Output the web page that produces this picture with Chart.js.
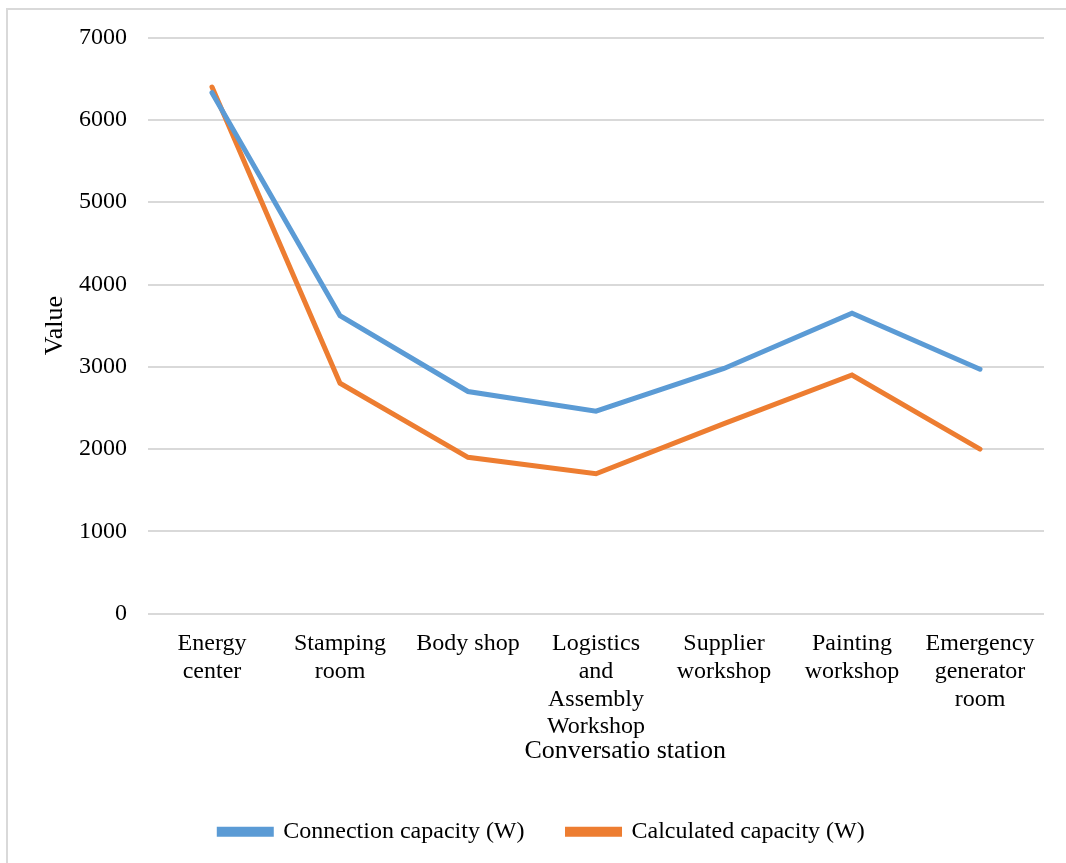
<!DOCTYPE html>
<html>
<head>
<meta charset="utf-8">
<title>Connection and calculated capacity by station</title>
<script src="https://cdn.jsdelivr.net/npm/chart.js@4.4.1/dist/chart.umd.min.js"></script>
<style>
  html, body { margin: 0; padding: 0; background: #ffffff; }
  #frame {
    position: absolute; left: 6px; top: 8px;
    width: 1100px; height: 900px;
    border: 2px solid #d9d9d9; box-sizing: border-box;
  }
  #chart { position: absolute; left: 0; top: 0; }
</style>
</head>
<body>
<div id="frame"></div>
<canvas id="chart" width="1066" height="863"></canvas>
<script>
// Stations (x categories), multi-line labels
const stations = [
  ['Energy', 'center'],
  ['Stamping', 'room'],
  'Body shop',
  ['Logistics', 'and', 'Assembly', 'Workshop'],
  ['Supplier', 'workshop'],
  ['Painting', 'workshop'],
  ['Emergency', 'generator', 'room']
];

// Capacity series (W)
const connectionCapacity = [6330, 3620, 2700, 2460, 2980, 3650, 2970];
const calculatedCapacity = [6400, 2800, 1900, 1700, 2310, 2900, 2000];

// Value axis ticks
const yTicks = [0, 1000, 2000, 3000, 4000, 5000, 6000, 7000];

const serif = "'Liberation Serif', 'Times New Roman', serif";

new Chart(document.getElementById('chart'), {
  type: 'line',
  data: {
    labels: stations,
    datasets: [
      {
        label: 'Connection capacity (W)',
        data: connectionCapacity,
        borderColor: '#5b9bd5',
        backgroundColor: '#5b9bd5',
        borderWidth: 5,
        borderCapStyle: 'round',
        pointRadius: 0,
        pointHoverRadius: 0,
        tension: 0
      },
      {
        label: 'Calculated capacity (W)',
        data: calculatedCapacity,
        borderColor: '#ed7d31',
        backgroundColor: '#ed7d31',
        borderWidth: 5,
        borderCapStyle: 'round',
        pointRadius: 0,
        pointHoverRadius: 0,
        tension: 0
      }
    ]
  },
  options: {
    responsive: false,
    animation: false,
    layout: { padding: { left: 40, right: 22, top: 37.6, bottom: 9.3 } },
    plugins: {
      tooltip: { enabled: false },
      legend: {
        position: 'bottom',
        labels: {
          color: '#000',
          font: { family: serif, size: 24 },
          boxWidth: 52,
          boxHeight: 5,
          padding: 43
        }
      }
    },
    scales: {
      x: {
        offset: true,
        grid: { display: false },
        border: { display: false },
        ticks: {
          color: '#000',
          font: { family: serif, size: 24, lineHeight: 1.155 },
          padding: 8.4,
          maxRotation: 0,
          autoSkip: false
        },
        title: {
          display: true,
          // leading spaces push the title right of the plot center
          text: '\u00a0'.repeat(9) + 'Conversatio station',
          color: '#000',
          font: { family: serif, size: 26 },
          padding: { top: 0, bottom: 10 }
        },
        afterFit(scale) { scale.height = 163; }
      },
      y: {
        min: yTicks[0],
        max: yTicks[yTicks.length - 1],
        afterBuildTicks(scale) { scale.ticks = yTicks.map(v => ({ value: v })); },
        grid: { color: '#d9d9d9', lineWidth: 2, drawTicks: false },
        border: { display: false },
        ticks: {
          color: '#000',
          font: { family: serif, size: 24 },
          padding: 21,
          callback: (value) => String(value)
        },
        title: {
          display: true,
          text: 'Value',
          color: '#000',
          font: { family: serif, size: 26 },
          padding: { top: 0, bottom: 0 }
        },
        afterFit(scale) { scale.width = 108; }
      }
    }
  }
});
</script>
</body>
</html>
